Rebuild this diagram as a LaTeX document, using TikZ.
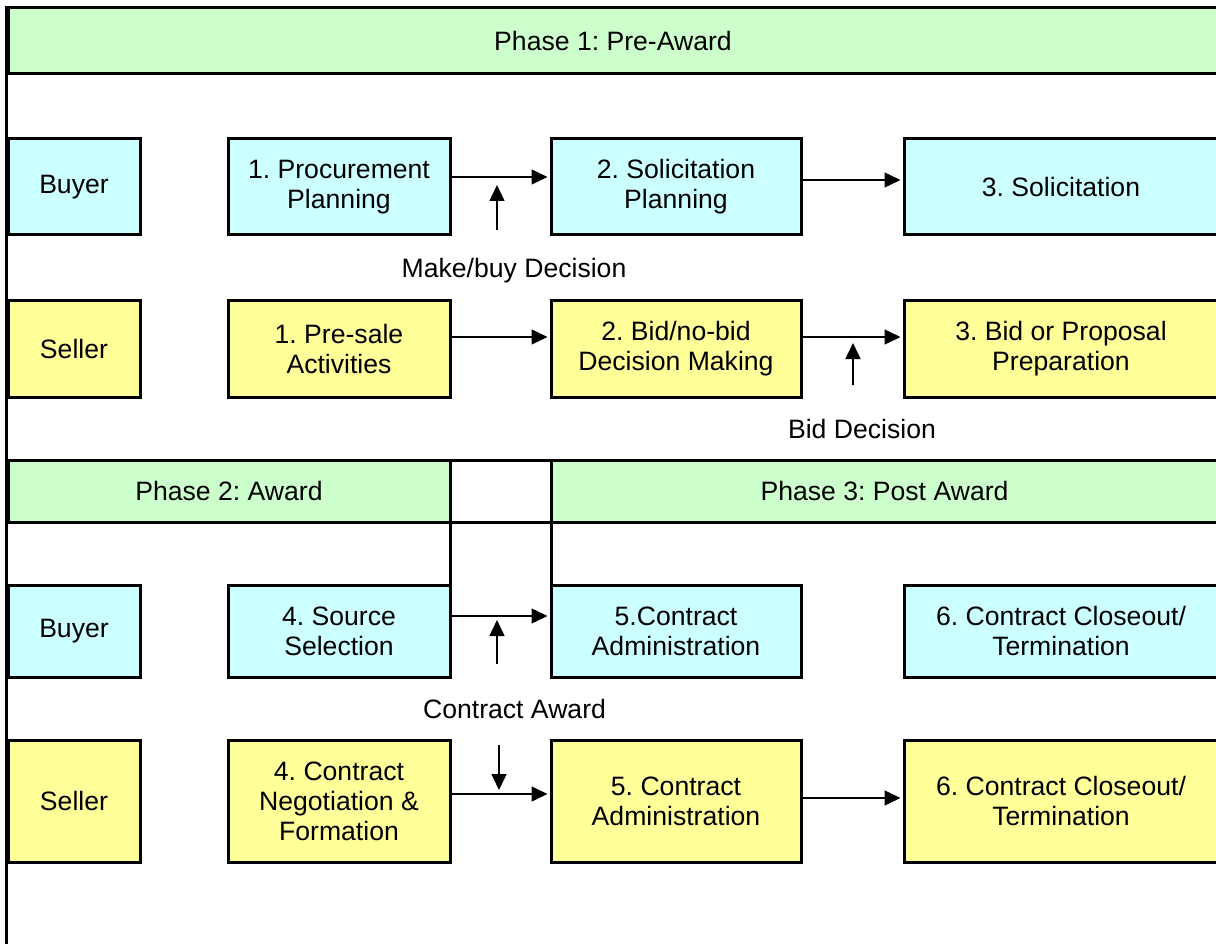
\documentclass[tikz,border=0pt]{standalone}
\usepackage{fontspec}
\setmainfont{Liberation Sans}
\frenchspacing
\usetikzlibrary{positioning,arrows.meta}
\definecolor{phasegreen}{HTML}{CCFFCC}
\definecolor{buyercyan}{HTML}{CCFFFF}
\definecolor{selleryellow}{HTML}{FFFF99}
\tikzset{
  box/.style={draw,line width=3pt,align=center,inner sep=0pt,
    font=\fontsize{26.6}{30}\selectfont},
  phase/.style={box,fill=phasegreen,minimum height=62pt},
  blank/.style={box,fill=white,minimum height=62pt},
  buyer/.style={box,fill=buyercyan},
  seller/.style={box,fill=selleryellow},
  lane/.style={minimum width=132pt},
  colA/.style={minimum width=222pt},
  colB/.style={minimum width=250pt},
  colC/.style={minimum width=314pt},
  flow/.style={line width=1.5pt,shorten >=2pt,-{Triangle[length=16pt,width=15pt]}},
  note/.style={anchor=base,inner sep=0pt,font=\fontsize{26.6}{30}\selectfont},
}

\begin{document}
\begin{tikzpicture}[x=1pt,y=-1pt,on grid]
  \useasboundingbox (0,0) rectangle (1216,944);
  \clip (0,0) rectangle (1216,944);

  % phase 1
  \node[phase,minimum width=1210pt,minimum height=66pt] (ph1) at (613,41) {Phase 1: Pre-Award};
  \draw[line width=3pt] (ph1.north west) -- ++(0,950);

  \node[buyer,lane,minimum height=96pt]  (buy1)     at (74,187)           {Buyer};
  \node[buyer,colA,minimum height=96pt]  (procplan) [right=265pt of buy1] {1. Procurement\\Planning};
  \node[buyer,colB,minimum height=96pt]  (solplan)  [right=337pt of procplan] {2. Solicitation\\Planning};
  \node[buyer,colC,minimum height=96pt]  (solic)    [right=385pt of solplan]  {3. Solicitation};

  \node[seller,lane,minimum height=97pt] (sell1)    [below=161.5pt of buy1] {Seller};
  \node[seller,colA,minimum height=97pt] (presale)  [right=265pt of sell1]  {1. Pre-sale\\Activities};
  \node[seller,colB,minimum height=97pt] (bidnobid) [right=337pt of presale] {2. Bid/no-bid\\Decision Making};
  \node[seller,colC,minimum height=97pt] (bidprep)  [right=385pt of bidnobid] {3. Bid or Proposal\\Preparation};

  \node[note] (makebuy) at (514,277) {Make/buy Decision};
  \node[note] (biddec)  at (862,438) {Bid Decision};
  \coordinate (mb-tail) at (497,230);
  \coordinate (mb-head) at (497,183);
  \coordinate (bd-tail) at (853,385);
  \coordinate (bd-head) at (853,341);

  \draw[flow] ([yshift=10pt]procplan.east)   -- ([yshift=10pt]solplan.west);
  \draw[flow] ([yshift=7pt]solplan.east)     -- ([yshift=7pt]solic.west);
  \draw[flow] ([yshift=11.5pt]presale.east)  -- ([yshift=11.5pt]bidnobid.west);
  \draw[flow] ([yshift=11.5pt]bidnobid.east) -- ([yshift=11.5pt]bidprep.west);
  \draw[flow] (mb-tail) -- (mb-head);
  \draw[flow] (bd-tail) -- (bd-head);

  % phases 2 and 3
  \node[phase,minimum width=442pt] (ph2) at (229,491)          {Phase 2: Award};
  \node[blank,minimum width=101pt] (gap) [right=271.5pt of ph2] {};
  \node[phase,minimum width=667pt] (ph3) [right=384pt of gap]   {Phase 3: Post Award};

  \node[buyer,lane,minimum height=92pt]   (buy2)     at (74,631)              {Buyer};
  \node[buyer,colA,minimum height=92pt]   (srcsel)   [right=265pt of buy2]    {4. Source\\Selection};
  \node[buyer,colB,minimum height=92pt]   (admbuy)   [right=337pt of srcsel]  {5.Contract\\Administration};
  \node[buyer,colC,minimum height=92pt]   (closebuy) [right=385pt of admbuy]  {6. Contract Closeout/\\Termination};

  \node[seller,lane,minimum height=122pt] (sell2)     [below=170pt of buy2]    {Seller};
  \node[seller,colA,minimum height=122pt] (negform)   [right=265pt of sell2]   {4. Contract\\Negotiation \&\\Formation};
  \node[seller,colB,minimum height=122pt] (admsell)   [right=337pt of negform] {5. Contract\\Administration};
  \node[seller,colC,minimum height=122pt] (closesell) [right=385pt of admsell] {6. Contract Closeout/\\Termination};

  \draw[line width=3pt] ([xshift=1.5pt]gap.south west)  -- ([xshift=1.5pt]gap.south west |- srcsel.north);
  \draw[line width=3pt] ([xshift=-1.5pt]gap.south east) -- ([xshift=-1.5pt]gap.south east |- admbuy.north);

  \node[note] (award) at (514.5,718) {Contract Award};
  \coordinate (ca-up-tail)   at (497,664);
  \coordinate (ca-up-head)   at (497,618);
  \coordinate (ca-down-tail) at (499,745);
  \coordinate (ca-down-head) at (499,792);

  \draw[flow] ([yshift=15pt]srcsel.east) -- ([yshift=15pt]admbuy.west);
  \draw[flow] ([yshift=7pt]negform.east) -- ([yshift=7pt]admsell.west);
  \draw[flow] ([yshift=3pt]admsell.east) -- ([yshift=3pt]closesell.west);
  \draw[flow] (ca-up-tail) -- (ca-up-head);
  \draw[flow] (ca-down-tail) -- (ca-down-head);
\end{tikzpicture}
\end{document}
